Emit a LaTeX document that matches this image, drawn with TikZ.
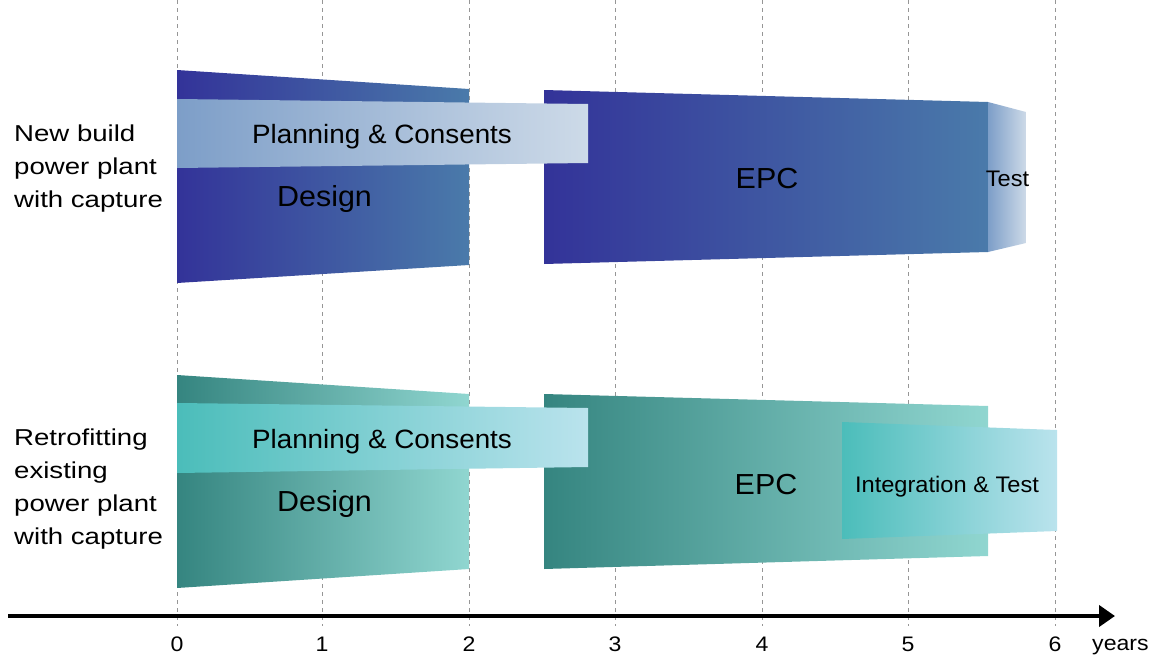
\documentclass[tikz,border=0pt]{standalone}
\usepackage{fontspec}
\setmainfont{Liberation Sans}
\newfontfamily\wideA[FakeStretch=1.2]{Liberation Sans}
\newfontfamily\wideB[FakeStretch=1.05]{Liberation Sans}
\newfontfamily\wideC[FakeStretch=1.1]{Liberation Sans}
\usetikzlibrary{arrows.meta}
\definecolor{blueDark}{RGB}{51,51,153}
\definecolor{blueLight}{RGB}{74,122,170}
\definecolor{planTL}{RGB}{125,158,200}
\definecolor{planTR}{RGB}{205,218,232}
\definecolor{tealDark}{RGB}{53,133,128}
\definecolor{tealLight}{RGB}{144,214,208}
\definecolor{planBL}{RGB}{75,189,186}
\definecolor{planBR}{RGB}{186,227,237}
\definecolor{gridgray}{RGB}{150,150,150}
\tikzset{
  grid line/.style={draw=gridgray, line width=0.9pt, dash pattern=on 4pt off 4pt},
  bluebar/.style={left color=blueDark, right color=blueLight},
  blueplan/.style={left color=planTL, right color=planTR},
  tealbar/.style={left color=tealDark, right color=tealLight},
  tealplan/.style={left color=planBL, right color=planBR},
  phase/.style={inner sep=0pt, anchor=base, font=\wideB\fontsize{29}{34}\selectfont},
  plantxt/.style={inner sep=0pt, anchor=base, font=\wideB\fontsize{26.5}{30}\selectfont},
  smalltxt/.style={inner sep=0pt, anchor=base, font=\wideB\fontsize{22.5}{26}\selectfont},
  rowlabel/.style={inner sep=0pt, anchor=west, align=left, font=\wideA\fontsize{23}{32.8}\selectfont},
  ticklabel/.style={inner sep=0pt, anchor=base, font=\wideC\fontsize{21}{24}\selectfont},
}
\begin{document}
\begin{tikzpicture}[x=1pt,y=-1pt]
\useasboundingbox (0,0) rectangle (1159,656);
% grid lines
\foreach \gx in {177,322,469,615,762,908,1055}{
  \draw[grid line] (\gx,0) -- (\gx,626);
}
% ---------- top row ----------
\shade[bluebar] (177,70) -- (469,89) -- (469,265) -- (177,283) -- cycle;
\shade[bluebar] (544,90) -- (988,102) -- (988,252) -- (544,264) -- cycle;
\shade[blueplan] (988,102) -- (1026,112) -- (1026,243) -- (988,252) -- cycle;
\shade[blueplan] (177,99) -- (588,104) -- (588,163) -- (177,168) -- cycle;
\node[plantxt] (plan1) at (382,143) {Planning \& Consents};
\node[phase] (design1) at (324.5,206) {Design};
\node[phase] (epc1) at (767,188) {EPC};
\node[smalltxt] (test1) at (1007.5,186) {Test};
% ---------- bottom row ----------
\shade[tealbar] (177,375) -- (469,394) -- (469,569) -- (177,588) -- cycle;
\shade[tealbar] (544,394) -- (988,406) -- (988,556) -- (544,569) -- cycle;
\shade[tealplan] (842,422) -- (1057,430) -- (1057,531) -- (842,539) -- cycle;
\shade[tealplan] (177,403) -- (588,408) -- (588,467) -- (177,473) -- cycle;
\node[plantxt] (plan2) at (382,448) {Planning \& Consents};
\node[phase] (design2) at (324.5,511) {Design};
\node[phase] (epc2) at (766,494.5) {EPC};
\node[smalltxt] (integ) at (947,492) {Integration \& Test};
% ---------- row labels ----------
\node[rowlabel] (lab1) at (14,168.5) {New build\\power plant\\with capture};
\node[rowlabel] (lab2) at (14,489) {Retrofitting\\existing\\power plant\\with capture};
% ---------- axis ----------
\coordinate (axA) at (8,616);
\coordinate (axB) at (1115,616);
\draw[line width=4.5pt, -{Triangle[length=16pt,width=21pt]}] (axA) -- (axB);
\foreach \i/\gx in {0/177,1/322,2/469,3/615,4/762,5/908,6/1055}{
  \node[ticklabel] (t\i) at (\gx,651.5) {\i};
}
\node[ticklabel, anchor=base west] (years) at (1092,650.5) {years};
\end{tikzpicture}
\end{document}
